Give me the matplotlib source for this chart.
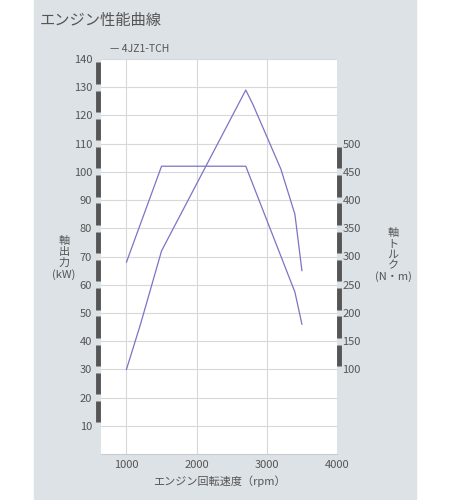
import matplotlib
matplotlib.use("Agg")
import matplotlib.pyplot as plt
from matplotlib.patches import Rectangle

plt.rcParams['font.family'] = ['Noto Sans CJK JP', 'DejaVu Sans']

rpm_power = [1000, 1200, 1500, 2700, 2800, 3200, 3400, 3500]
power_kw = [30, 46, 72, 129, 124, 101, 85, 65]
rpm_torque = [1000, 1500, 2700, 3400, 3500]
torque_nm = [290, 460, 460, 237, 180]
left_ticks = list(range(10, 150, 10))
right_ticks = list(range(100, 550, 50))
x_ticks = [1000, 2000, 3000, 4000]
series_name = "4JZ1-TCH"

W, H = 450, 500
fig = plt.figure(figsize=(4.5, 5), dpi=100, facecolor='white')
bg = Rectangle((34/W, 0), (416-34)/W, 1, transform=fig.transFigure,
               color='#dde2e6', zorder=-10)
fig.add_artist(bg)
ax = fig.add_axes([100.5/W, 1-454/H, (337-100.5)/W, (454-59)/H])
ax.set_facecolor('white')
ax.set_xlim(630, 4000)
ax.set_ylim(0, 140)
ax2 = ax.twinx()
ax2.set_ylim(-50, 650)

line_col = '#7b74c4'
ax.plot(rpm_power, power_kw, color=line_col, lw=0.9, label=series_name)
ax2.plot(rpm_torque, torque_nm, color=line_col, lw=0.9)

for v in left_ticks:
    ax.axhline(v, color='#d8d8d8', lw=0.8, zorder=0)
for v in x_ticks[:-1]:
    ax.axvline(v, color='#d8d8d8', lw=0.8, zorder=0)
for a in (ax, ax2):
    for s in a.spines.values():
        s.set_visible(False)
ax.spines['bottom'].set_visible(True)
ax.spines['bottom'].set_color('#c8ccd0')

ax.set_xticks(x_ticks)
ax.set_yticks(left_ticks)
ax2.set_yticks(right_ticks)
ax.tick_params(axis='both', length=0, labelsize=8, colors='#555555', pad=4)
ax2.tick_params(axis='y', length=0, labelsize=8, colors='#555555', pad=4)
ax.tick_params(axis='y', pad=6)

bar_col = '#555555'
gap = 1.2
for i in range(len(left_ticks) - 1):
    ax.plot([-0.01, -0.01], [left_ticks[i] + gap, left_ticks[i+1] - gap],
            transform=ax.get_yaxis_transform(), color=bar_col, lw=3.5,
            clip_on=False, solid_capstyle='butt')
for i in range(len(right_ticks) - 1):
    ax2.plot([1.01, 1.01], [right_ticks[i] + gap*5, right_ticks[i+1] - gap*5],
             transform=ax2.get_yaxis_transform(), color=bar_col, lw=3.5,
             clip_on=False, solid_capstyle='butt')

fig.text(40/W, 1-20/H, "エンジン性能曲線", fontsize=11, color='#555555', va='center')
fig.text(110/W, 1-49/H, "— " + series_name, fontsize=7.5, color='#555555', va='center')
fig.text(64/W, 1-258/H, "軸\n出\n力\n(kW)", fontsize=8, color='#555555',
         ha='center', va='center', linespacing=1.1)
fig.text(393/W, 1-255/H, "軸\nト\nル\nク\n(N・m)", fontsize=8, color='#555555',
         ha='center', va='center', linespacing=1.1)
fig.text(219/W, 1-481/H, "エンジン回転速度（rpm）", fontsize=8, color='#555555',
         ha='center', va='center')

fig.savefig("out.png", dpi=100)
